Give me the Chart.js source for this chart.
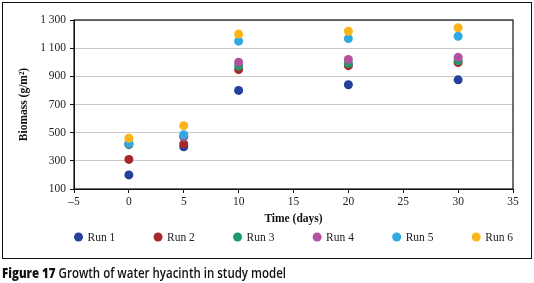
<!DOCTYPE html>
<html>
<head>
<meta charset="utf-8">
<script src="https://cdn.jsdelivr.net/npm/chart.js@4/dist/chart.umd.min.js"></script>
<style>
  html, body { margin: 0; padding: 0; background: #fff; }
  body { width: 534px; height: 283px; position: relative; overflow: hidden; }
  #wrap { position: absolute; left: 0; top: 0; width: 534px; height: 283px; }
  #frame { position: absolute; left: 2px; top: 2px; width: 530px; height: 257px; box-sizing: border-box; border: 1.5px solid #111; pointer-events: none; }
  #caption { position: absolute; left: 2px; top: 265px; font-family: "Open Sans", "Noto Sans", sans-serif; font-size: 14px; line-height: 16px; color: #111; white-space: nowrap; transform-origin: 0 0; font-weight: 600; }
  #caption b { font-weight: 800; }
</style>
</head>
<body>
<div id="wrap"><canvas id="c" width="534" height="283"></canvas></div>
<div id="frame"></div>
<div id="caption"><b>Figure 17</b> Growth of water hyacinth in study model</div>
<script>
const days = [0, 5, 10, 20, 30];
const runLabels = ['Run 1', 'Run 2', 'Run 3', 'Run 4', 'Run 5', 'Run 6'];
const run1 = [200, 400, 800, 840, 875];
const run2 = [310, 420, 948, 976, 998];
const run3 = [415, 470, 973, 992, 1010];
const run4 = [420, 475, 1000, 1020, 1035];
const run5 = [425, 486, 1150, 1168, 1185];
const run6 = [460, 550, 1200, 1220, 1245];
const runColors = ['#22419a', '#a8282a', '#1f9a6a', '#b0529f', '#2eaae1', '#fbb51b'];
const xTicks = { min: -5, max: 35, step: 5 };
const yTicks = { min: 100, max: 1300, step: 200 };

const allRuns = [run1, run2, run3, run4, run5, run6];
const serif = '"Liberation Serif", "Times New Roman", serif';

const datasets = allRuns.map((vals, i) => ({
  label: runLabels[i],
  data: days.map((d, j) => ({ x: d, y: vals[j] })),
  backgroundColor: runColors[i],
  borderColor: runColors[i],
  borderWidth: 0,
  pointRadius: 4.5,
  pointHoverRadius: 4.5,
  order: allRuns.length - i
}));

const framePlugin = {
  id: 'plotFrame',
  beforeDatasetsDraw(chart) {
    const a = chart.chartArea, ctx = chart.ctx;
    ctx.save();
    ctx.strokeStyle = '#111';
    ctx.lineWidth = 1.2;
    ctx.strokeRect(a.left, a.top, a.right - a.left, a.bottom - a.top);
    ctx.restore();
  }
};

const legendPlugin = {
  id: 'rowLegend',
  afterDraw(chart) {
    const a = chart.chartArea, ctx = chart.ctx;
    ctx.save();
    ctx.font = '11.5px ' + serif;
    ctx.textBaseline = 'middle';
    ctx.fillStyle = '#222';
    const n = chart.data.datasets.length;
    const lastW = ctx.measureText(chart.data.datasets[n - 1].label).width;
    const start = a.left + 4.5;
    const gap = 9;
    const spacing = (a.right - start - gap - lastW) / (n - 1);
    const y = 237;
    chart.data.datasets.forEach((ds, i) => {
      const x = start + i * spacing;
      ctx.beginPath();
      ctx.arc(x, y, 4.5, 0, Math.PI * 2);
      ctx.fillStyle = ds.backgroundColor;
      ctx.fill();
      ctx.fillStyle = '#222';
      ctx.fillText(ds.label, x + gap, y + 0.5);
    });
    ctx.restore();
  }
};

new Chart(document.getElementById('c'), {
  type: 'scatter',
  data: { datasets },
  plugins: [framePlugin, legendPlugin],
  options: {
    responsive: false,
    animation: false,
    layout: { padding: { left: 0, right: 21, top: 20, bottom: 54 } },
    plugins: { legend: { display: false }, tooltip: { enabled: false } },
    scales: {
      x: {
        type: 'linear',
        min: xTicks.min, max: xTicks.max,
        afterFit(s) { s.height = 40; },
        ticks: {
          stepSize: xTicks.step,
          color: '#222',
          padding: 2,
          font: { family: serif, size: 11.5 },
          callback: v => (v < 0 ? '\u2013' + Math.abs(v) : String(v))
        },
        grid: { drawOnChartArea: false, drawTicks: true, tickLength: 4, tickColor: '#111', tickWidth: 1 },
        border: { display: true, color: '#111', width: 1 },
        title: { display: true, text: 'Time (days)', color: '#111', font: { family: serif, size: 11.5, weight: 'bold' }, padding: { top: 0, bottom: 3 } }
      },
      y: {
        type: 'linear',
        min: yTicks.min, max: yTicks.max,
        afterFit(s) { s.width = 74; },
        ticks: {
          stepSize: yTicks.step,
          color: '#222',
          padding: 4,
          font: { family: serif, size: 11.5 },
          callback: v => String(v).replace(/\B(?=(\d{3})+(?!\d))/g, ' ')
        },
        grid: { color: '#c9c9c9', lineWidth: 1, drawTicks: true, tickLength: 4, tickColor: '#111', tickWidth: 1 },
        border: { display: true, color: '#111', width: 1 },
        title: { display: true, text: 'Biomass (g/m\u00b2)', color: '#111', font: { family: serif, size: 11.5, weight: 'bold' }, padding: { top: 17, bottom: 0 } }
      }
    }
  }
});

const cap = document.getElementById('caption');
const w = cap.getBoundingClientRect().width;
cap.style.transform = 'scaleX(' + (284 / w) + ')';
</script>
</body>
</html>
